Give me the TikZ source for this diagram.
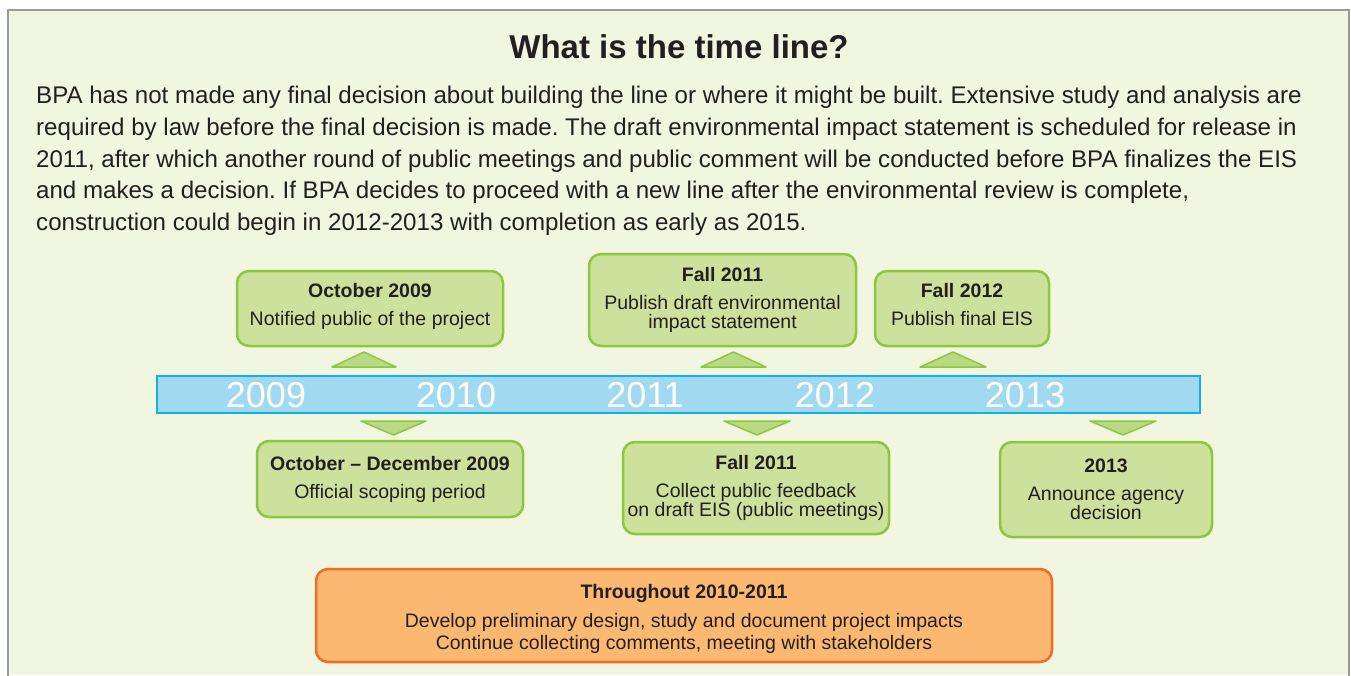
\documentclass[tikz,border=0pt]{standalone}
\usepackage{fontspec}
\setmainfont{Liberation Sans}
\usetikzlibrary{positioning}
\frenchspacing

\definecolor{paper}{HTML}{F1F6E0}
\definecolor{framegray}{HTML}{9A9A9A}
\definecolor{txt}{HTML}{231F20}
\definecolor{evfill}{HTML}{CCE19C}
\definecolor{evline}{HTML}{8DC63F}
\definecolor{trifill}{HTML}{BBD882}
\definecolor{barfill}{HTML}{A1DAF0}
\definecolor{barline}{HTML}{14B1E7}
\definecolor{ofill}{HTML}{FBB870}
\definecolor{oline}{HTML}{F26C24}

\begin{document}
\begin{tikzpicture}[
  x=1pt, y=-1pt,
  every node/.style={inner sep=0pt, text=txt},
  event/.style = {draw=evline, fill=evfill, line width=2.5pt, rounded corners=12pt,
    align=center, font=\fontsize{19.5}{19}\selectfont},
  longrun/.style = {event, draw=oline, fill=ofill},
  year/.style = {text=white, font=\fontsize{36}{36}\selectfont},
  pointer/.style = {draw=evline, fill=trifill, line width=1.5pt, line join=round}
  ]
  \useasboundingbox (0,0) rectangle (1351,675);

  % panel
  \fill[paper] (8,10) rectangle (1349,675);
  \draw[framegray, line width=1.2pt] (8,676) |- (1349,10) -- (1349,676);

  \node[font=\fontsize{33}{33}\selectfont\bfseries] (title) at (679,47) {What is the time line?};
  \node[anchor=north west, align=left, font=\fontsize{24.1}{31.7}\selectfont] (intro) at (36,86)
    {BPA has not made any final decision about building the line or where it might be built. Extensive study and analysis are\\
     required by law before the final decision is made. The draft environmental impact statement is scheduled for release in\\
     2011, after which another round of public meetings and public comment will be conducted before BPA finalizes the EIS\\
     and makes a decision. If BPA decides to proceed with a new line after the environmental review is complete,\\
     construction could begin in 2012-2013 with completion as early as 2015.};

  % the bar with the years
  \node[draw=barline, fill=barfill, line width=2.5pt, minimum width=1043pt, minimum height=37pt] (bar) at (678.5,394.5) {};
  \node[year] (y2009) at (266,395) {2009};
  \node[year] (y2010) at (456,395) {2010};
  \node[year] (y2011) at (645,395) {2011};
  \node[year] (y2012) at (835,395) {2012};
  \node[year] (y2013) at (1025,395) {2013};

  % events above the bar
  \node[event, minimum width=266pt, minimum height=75pt] (oct09) at (370,308.5)
    {\textbf{October 2009}\\[9pt] Notified public of the project\rule[-9pt]{0pt}{1pt}};
  \node[event, minimum width=267pt, minimum height=92pt] (draft) at (722.5,300)
    {\textbf{Fall 2011}\\[9pt] Publish draft environmental\\ impact statement};
  \node[event, minimum width=174pt, minimum height=75pt] (final) at (962,308.5)
    {\textbf{Fall 2012}\\[9pt] Publish final EIS\rule[-9pt]{0pt}{1pt}};

  % events below the bar
  \node[event, minimum width=266pt, minimum height=76pt] (scoping) at (390,479)
    {\textbf{October -- December 2009}\\[9pt] Official scoping period};
  \node[event, minimum width=266pt, minimum height=92pt] (meetings) at (756,488)
    {\textbf{Fall 2011}\\[9pt] Collect public feedback\\ on draft EIS (public meetings)};
  \node[event, minimum width=212pt, minimum height=95pt] (decision) at (1106,489.5)
    {\textbf{2013}\\[9pt] Announce agency\\ decision};

  \node[longrun, minimum width=736pt, minimum height=93pt, font=\fontsize{19.5}{22}\selectfont] (study) at (684,615.5)
    {\rule{0pt}{22pt}\textbf{Throughout 2010-2011}\\[7pt] Develop preliminary design, study and document project impacts\\
     Continue collecting comments, meeting with stakeholders};

  % pointers between the bar and the events
  \draw[pointer] (332,367) -- (364,352) -- (396,367) -- cycle;
  \draw[pointer] (701,367) -- (733.5,352) -- (766,367) -- cycle;
  \draw[pointer] (920,367) -- (953,352) -- (986,367) -- cycle;
  \draw[pointer] (361,421) -- (393.5,435) -- (426,421) -- cycle;
  \draw[pointer] (724,421) -- (757,435) -- (790,421) -- cycle;
  \draw[pointer] (1090,421) -- (1123,435) -- (1156,421) -- cycle;

\end{tikzpicture}
\end{document}
